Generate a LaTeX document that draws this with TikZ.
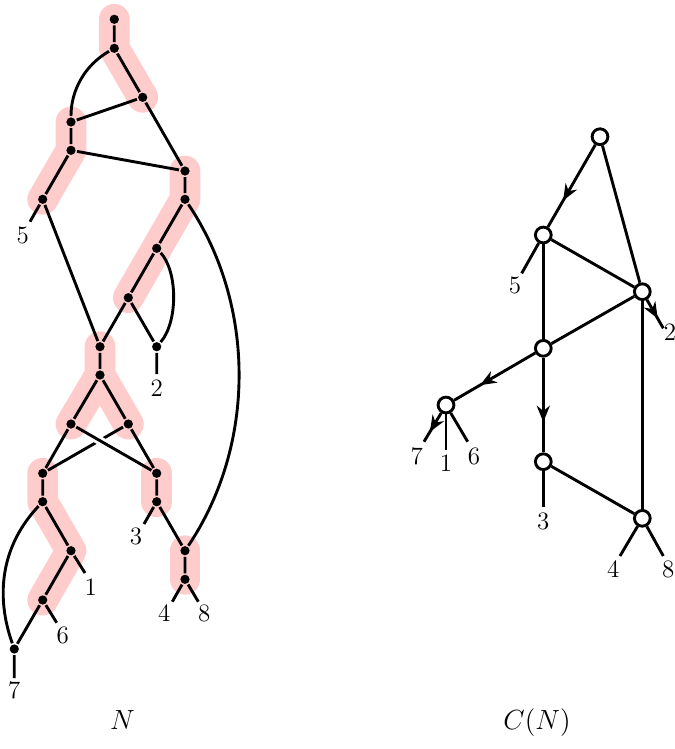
\documentclass[tikz,border=0pt]{standalone}
\usetikzlibrary{arrows.meta,decorations.markings,backgrounds}

\begin{document}
\begin{tikzpicture}[x=0.52pt,y=-0.52pt,line width=1.5pt,font=\fontsize{13}{15}\selectfont]
    \tikzset{
        dot/.style={circle,fill=black,inner sep=0pt,minimum size=4.8pt},
        blob/.style={circle,draw,fill=white,inner sep=0pt,minimum size=8.2pt},
        leaflabel/.style={inner sep=0pt},
        caption/.style={anchor=base,font=\fontsize{15}{18}\selectfont},
        treepath/.style={line width=16pt,red!20,line cap=round,line join=round},
        bridge/.style={preaction={draw,white,line width=4.5pt,
            shorten <=6pt,shorten >=6pt}},
        midarrow/.style={postaction={decorate},decoration={markings,
            mark=at position #1 with {\arrow{Stealth[length=8.5pt,width=6.8pt]}}}},
        midarrow/.default=0.68
    }
    \useasboundingbox (0,0) rectangle (675,749);

    % network N
    \node[dot] (a) at (114.3,19.3) {};
    \node[dot] (b) at (114.3,48.3) {};
    \node[dot] (c) at (142.7,97.3) {};
    \node[dot] (d) at (71,122) {};
    \node[dot] (e) at (71,150.3) {};
    \node[dot] (f) at (185,171) {};
    \node[dot] (g) at (185,199.3) {};
    \node[dot] (h) at (42.7,199.3) {};
    \node[dot] (i) at (156.7,248.3) {};
    \node[dot] (j) at (128.3,297.7) {};
    \node[dot] (k) at (100,346.7) {};
    \node[dot] (l) at (156.7,346.7) {};
    \node[dot] (m) at (100,375) {};
    \node[dot] (n) at (71,424) {};
    \node[dot] (o) at (128.3,424) {};
    \node[dot] (p) at (42.7,473.3) {};
    \node[dot] (q) at (156.7,473.3) {};
    \node[dot] (r) at (42.7,501.7) {};
    \node[dot] (s) at (71,550.7) {};
    \node[dot] (t) at (42.7,600) {};
    \node[dot] (u) at (14.3,649) {};
    \node[dot] (v) at (156.7,501.7) {};
    \node[dot] (w) at (185,550.7) {};
    \node[dot] (x) at (185,579.3) {};

    \coordinate (l5) at (30,221.7);
    \coordinate (l2) at (156.7,374);
    \coordinate (l1) at (85,573);
    \coordinate (l6) at (56.7,622.7);
    \coordinate (l7) at (14.3,678);
    \coordinate (l3) at (144,524);
    \coordinate (l4) at (172.3,601.7);
    \coordinate (l8) at (198.3,601.7);

    \node[leaflabel] (lab5) at (22.7,235) {5};
    \node[leaflabel] (lab2) at (156.7,388) {2};
    \node[leaflabel] (lab1) at (90.7,586.7) {1};
    \node[leaflabel] (lab6) at (62.7,635) {6};
    \node[leaflabel] (lab7) at (14.3,690) {7};
    \node[leaflabel] (lab3) at (136,536.7) {3};
    \node[leaflabel] (lab4) at (164.3,613.3) {4};
    \node[leaflabel] (lab8) at (204.3,613.3) {8};

    \draw (a) -- (b) -- (c) -- (d) -- (e) -- (f);
    \draw (b) .. controls (85,65) and (71,90) .. (d);
    \draw (c) -- (f) -- (g) -- (i) -- (j) -- (k);
    \draw (j) -- (l) -- (l2);
    \draw (i) .. controls (178,272) and (178,322) .. (l);
    \draw (e) -- (h) -- (l5);
    \draw (h) -- (k) -- (m);
    \draw (m) -- (n) -- (p);
    \draw (m) -- (o) -- (p);
    \draw (o) -- (q);
    \draw[bridge] (n) -- (q);
    \draw (p) -- (r) -- (s) -- (l1);
    \draw (s) -- (t) -- (l6);
    \draw (t) -- (u) -- (l7);
    \draw (r) .. controls (-12,560) and (4,620) .. (u);
    \draw (q) -- (v) -- (l3);
    \draw (v) -- (w) -- (x);
    \draw (g) .. controls (256,305) and (256,445) .. (w);
    \draw (x) -- (l4);
    \draw (x) -- (l8);

    \begin{scope}[on background layer]
        \draw[treepath] (a.center) -- (b.center) -- (c.center);
        \draw[treepath] (d.center) -- (e.center) -- (h.center);
        \draw[treepath] (f.center) -- (g.center) -- (i.center) -- (j.center);
        \draw[treepath] (k.center) -- (m.center) -- (n.center);
        \draw[treepath] (m.center) -- (o.center);
        \draw[treepath] (p.center) -- (r.center) -- (s.center) -- (t.center);
        \draw[treepath] (q.center) -- (v.center);
        \draw[treepath] (w.center) -- (x.center);
    \end{scope}

    % contracted graph C(N)
    \node[blob] (ca) at (600,136.7) {};
    \node[blob] (cb) at (543.3,235) {};
    \node[blob] (cc) at (642.3,291.7) {};
    \node[blob] (cd) at (543.3,348.3) {};
    \node[blob] (ce) at (446,405) {};
    \node[blob] (cf) at (543.3,461.7) {};
    \node[blob] (cg) at (642.3,518.3) {};

    \coordinate (r5) at (521.7,273.3);
    \coordinate (r2) at (663.3,328.3);
    \coordinate (r7) at (424,441.7);
    \coordinate (r1) at (446,450);
    \coordinate (r6) at (467.7,441.7);
    \coordinate (r3) at (543.3,506.7);
    \coordinate (r4) at (620,556);
    \coordinate (r8) at (663.3,556);

    \node[leaflabel] (rlab5) at (515,285) {5};
    \node[leaflabel] (rlab2) at (670,332) {2};
    \node[leaflabel] (rlab7) at (416.7,456) {7};
    \node[leaflabel] (rlab1) at (446,463) {1};
    \node[leaflabel] (rlab6) at (474,456) {6};
    \node[leaflabel] (rlab3) at (543.3,521) {3};
    \node[leaflabel] (rlab4) at (613.3,569) {4};
    \node[leaflabel] (rlab8) at (668.3,569) {8};

    \draw[midarrow] (ca) -- (cb);
    \draw (ca) -- (cc);
    \draw (cb) -- (cc);
    \draw (cb) -- (cd);
    \draw (cc) -- (cd);
    \draw (cc) -- (cg);
    \draw[midarrow] (cd) -- (ce);
    \draw[midarrow] (cd) -- (cf);
    \draw (cf) -- (cg);

    \draw (cb) -- (r5);
    \draw[midarrow=0.66] (cc) -- (r2);
    \draw[midarrow=0.66] (ce) -- (r7);
    \draw (ce) -- (r1);
    \draw (ce) -- (r6);
    \draw (cf) -- (r3);
    \draw (cg) -- (r4);
    \draw (cg) -- (r8);

    \node[caption] (capn) at (122.5,729) {$N$};
    \node[caption] (capc) at (537,729) {$C(N)$};
\end{tikzpicture}
\end{document}
